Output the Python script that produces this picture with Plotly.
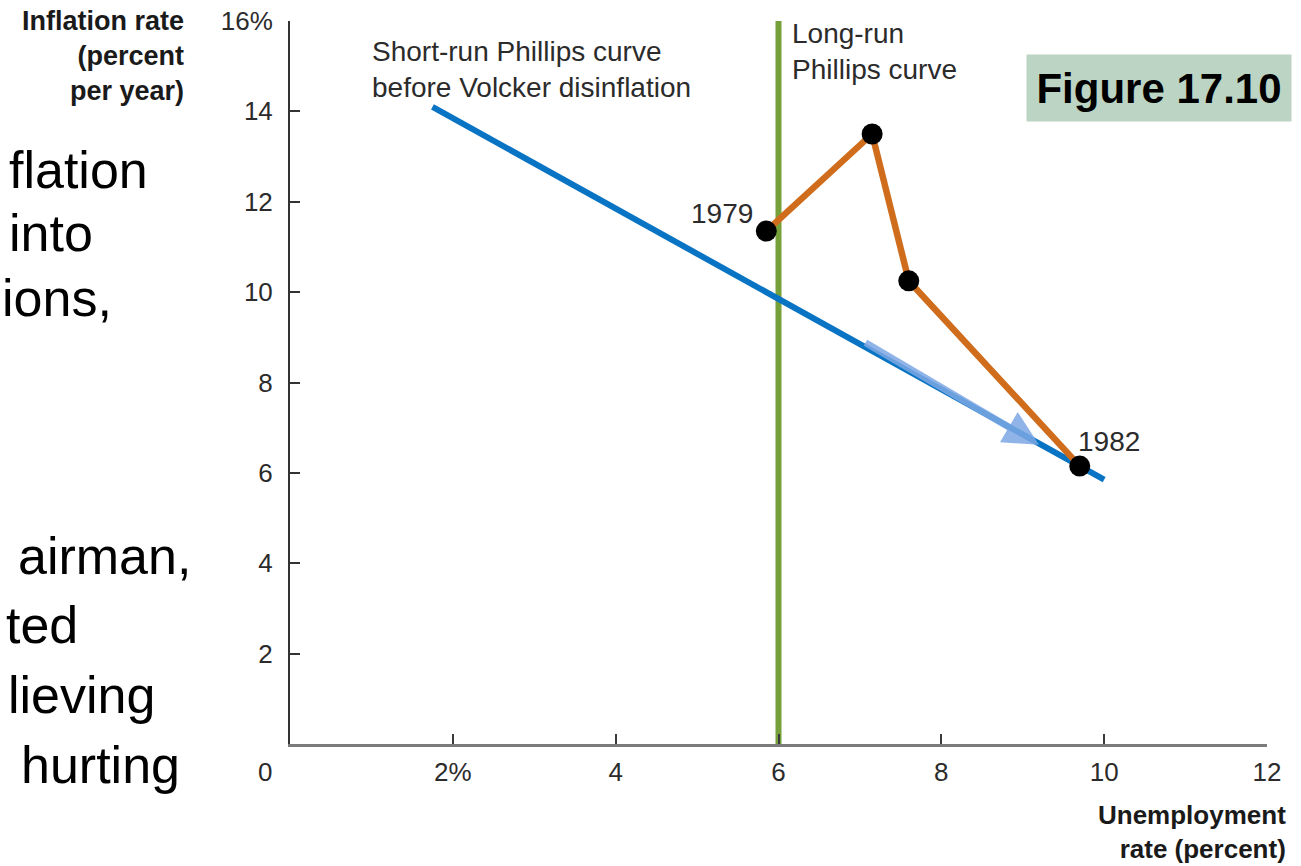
import plotly.graph_objects as go

# --- data -----------------------------------------------------------------
# Short-run Phillips curve before the Volcker disinflation (endpoints)
srpc_unemp = [1.75, 10.0]
srpc_infl = [14.1, 5.85]

# Long-run Phillips curve at the natural rate of unemployment
lrpc_unemp = [6, 6]
lrpc_infl = [0, 16]

# Actual path 1979-1982 (unemployment %, inflation %)
path_years = ["1979", "1980", "1981", "1982"]
path_unemp = [5.85, 7.15, 7.6, 9.7]
path_infl = [11.35, 13.5, 10.25, 6.15]

# Tick labels
x_ticks = [2, 4, 6, 8, 10, 12]
x_tick_text = ["2%", "4", "6", "8", "10", "12"]
y_ticks = [2, 4, 6, 8, 10, 12, 14, 16]
y_tick_text = ["2", "4", "6", "8", "10", "12", "14", "16%"]

# Fragments of the slide text to the left of the diagram
slide_lines = ["flation", "into", "ions,", "airman,", "ted", "lieving", "hurting"]

# --- layout geometry ----------------------------------------------------
W, H = 1301, 866
L, R, T, B = 290, 34, 21, 122
PW, PH = W - L - R, H - T - B


def px(x):
    return (x - L) / PW


def py(y):
    return (H - B - y) / PH


FONT = "Liberation Sans, Arial, Helvetica, sans-serif"
TXT = "#2b2b2b"

fig = go.Figure()

fig.add_trace(go.Scatter(x=lrpc_unemp, y=lrpc_infl, mode="lines",
                         line=dict(color="#76a13a", width=6),
                         hoverinfo="skip", showlegend=False))
fig.add_trace(go.Scatter(x=srpc_unemp, y=srpc_infl, mode="lines",
                         line=dict(color="#0a74c4", width=6),
                         hoverinfo="skip", showlegend=False))
fig.add_trace(go.Scatter(x=path_unemp, y=path_infl, mode="lines",
                         line=dict(color="#cf6d1c", width=6.5),
                         hoverinfo="skip", showlegend=False))
fig.add_trace(go.Scatter(x=path_unemp, y=path_infl, mode="markers",
                         marker=dict(color="black", size=21),
                         text=path_years, hoverinfo="text", showlegend=False))

annotations = []

# Movement along the short-run curve
annotations.append(dict(x=9.2, y=6.62, ax=7.05, ay=8.9, xref="x", yref="y",
                        axref="x", ayref="y", text="", showarrow=True,
                        arrowhead=2, arrowsize=1.0, arrowwidth=7,
                        arrowcolor="rgba(125,168,228,0.85)"))

annotations.append(dict(x=0.98, y=14.92, xref="x", yref="y",
                        text="Short-run Phillips curve<br>before Volcker disinflation",
                        showarrow=False, xanchor="left", yanchor="middle", align="left",
                        font=dict(family=FONT, size=28, color=TXT)))
annotations.append(dict(x=6.14, y=15.32, xref="x", yref="y",
                        text="Long-run<br>Phillips curve",
                        showarrow=False, xanchor="left", yanchor="middle", align="left",
                        font=dict(family=FONT, size=28, color=TXT)))
annotations.append(dict(x=5.71, y=11.75, xref="x", yref="y", text=path_years[0],
                        showarrow=False, xanchor="right", yanchor="middle",
                        font=dict(family=FONT, size=28, color=TXT)))
annotations.append(dict(x=9.66, y=6.7, xref="x", yref="y", text=path_years[-1],
                        showarrow=False, xanchor="left", yanchor="middle",
                        font=dict(family=FONT, size=28, color=TXT)))

# Axis titles and origin label
annotations.append(dict(x=px(186), y=py(56), xref="paper", yref="paper",
                        text="<b>Inflation rate<br>(percent<br>per year)</b>",
                        showarrow=False, xanchor="right", yanchor="middle", align="right",
                        font=dict(family=FONT, size=27, color="#1a1a1a")))
annotations.append(dict(x=px(1288), y=py(832), xref="paper", yref="paper",
                        text="<b>Unemployment<br>rate (percent)</b>",
                        showarrow=False, xanchor="right", yanchor="middle", align="right",
                        font=dict(family=FONT, size=26, color="#1a1a1a")))
annotations.append(dict(x=px(265), y=py(772), xref="paper", yref="paper", text="0",
                        showarrow=False, xanchor="center", yanchor="middle",
                        font=dict(family=FONT, size=26, color=TXT)))

# Figure tag
annotations.append(dict(x=px(1159), y=py(88), xref="paper", yref="paper",
                        text="<b>Figure 17.10</b>", showarrow=False,
                        xanchor="center", yanchor="middle",
                        width=262, height=64, bgcolor="#bcd4c3",
                        font=dict(family=FONT, size=42, color="black")))

# Slide text fragments (right edge, baseline in pixels)
slide_right = [150, 95, 114, 193, 80, 157, 182]
slide_base = [187, 250, 315, 573, 642, 712, 782]
for txt, xr, yb in zip(slide_lines, slide_right, slide_base):
    annotations.append(dict(x=px(xr), y=py(yb - 17), xref="paper", yref="paper",
                            text=txt, showarrow=False, xanchor="right", yanchor="middle",
                            font=dict(family=FONT, size=52, color="black")))

fig.update_layout(
    width=W, height=H,
    margin=dict(l=L, r=R, t=T, b=B, pad=0, autoexpand=False),
    paper_bgcolor="white", plot_bgcolor="white",
    showlegend=False,
    annotations=annotations,
    xaxis=dict(range=[0, 12], tickvals=x_ticks, ticktext=x_tick_text,
               showgrid=False, zeroline=False, showline=True,
               linecolor="#7b7b7b", linewidth=3,
               ticks="inside", ticklen=10, tickwidth=2, tickcolor="#3a3a3a",
               ticklabelstandoff=3,
               tickfont=dict(family=FONT, size=26, color=TXT), fixedrange=True),
    yaxis=dict(range=[0, 16], tickvals=y_ticks, ticktext=y_tick_text,
               showgrid=False, zeroline=False, showline=True,
               linecolor="#333333", linewidth=2,
               ticks="inside", ticklen=10, tickwidth=2, tickcolor="#333333",
               ticklabelstandoff=10,
               tickfont=dict(family=FONT, size=26, color=TXT), fixedrange=True),
)

fig.write_html("out.html", config={"displayModeBar": False})
